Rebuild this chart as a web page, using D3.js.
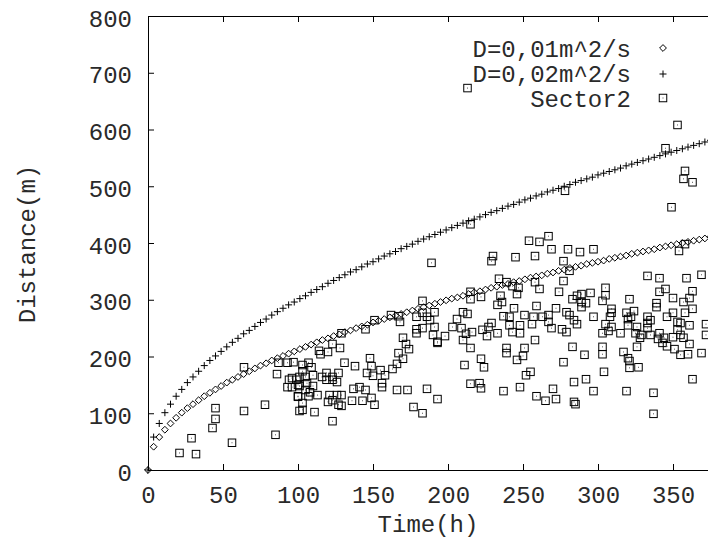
<!DOCTYPE html>
<html>
<head>
<meta charset="utf-8">
<script src="https://cdn.jsdelivr.net/npm/d3@7"></script>
<style>
  body { margin: 0; background: #fff; }
  svg { display: block; }
</style>
</head>
<body>
<div id="chart"></div>
<script>
// sample times of the two model curves (h)
var curveTimes = [0,3.75,7.5,11.25,15,18.75,22.5,26.25,30,33.75,37.5,41.25,45,48.75,52.5,56.25,60,63.75,67.5,71.25,
  75,78.75,82.5,86.25,90,93.75,97.5,101.25,105,108.75,112.5,116.25,120,123.75,127.5,131.25,135,138.75,142.5,146.25,
  150,153.75,157.5,161.25,165,168.75,172.5,176.25,180,183.75,187.5,191.25,195,198.75,202.5,206.25,210,213.75,217.5,221.25,
  225,228.75,232.5,236.25,240,243.75,247.5,251.25,255,258.75,262.5,266.25,270,273.75,277.5,281.25,285,288.75,292.5,296.25,
  300,303.75,307.5,311.25,315,318.75,322.5,326.25,330,333.75,337.5,341.25,345,348.75,352.5,356.25,360,363.75,367.5,371.25,375];

// D=0,01m^2/s
var d1Values = [0,41,58,71,82,92,101,109,116,123,130,136,142,148,154,159,164,169,174,179,
  184,188,193,197,201,205,209,213,217,221,225,229,232,236,239,243,246,250,253,256,
  260,263,266,269,272,275,278,281,284,287,290,293,296,299,302,304,307,310,313,315,
  318,321,323,326,328,331,333,336,339,341,343,346,348,351,353,356,358,360,363,365,
  367,369,372,374,376,378,381,383,385,387,389,392,394,396,398,400,402,404,406,408,411];

// D=0,02m^2/s
var d2Values = [0,58,82,101,116,130,142,154,164,174,184,193,201,209,217,225,232,240,246,253,
  260,266,273,279,285,291,296,302,307,313,318,323,329,334,339,344,349,353,358,363,
  367,372,377,381,385,390,394,398,403,407,411,415,419,423,427,431,435,439,442,446,
  450,454,457,461,465,468,472,476,479,483,486,490,493,496,500,503,507,510,513,516,
  520,523,526,529,532,536,539,542,545,548,551,554,557,560,563,566,569,572,575,578,581];

// Sector2 measurements [time (h), distance (m)]
var sector2 = [
  [21,30],[32,28],[29,56],[43,74],[45,90],[45,109],[56,48],[64,104],[78,115],[85,62],[64,181],[86,169],
  [87,189],[93,189],[97,190],[94,159],[93,146],[99,159],[100,150],[100,129],[101,104],
  [103,185],[107,189],[109,181],[103,174],[101,164],[105,164],[110,167],[96,162],[96,146],[101,148],[106,153],
  [110,148],[105,141],[108,137],[100,130],[107,130],[113,132],[116,164],[119,171],[123,164],[127,171],[123,159],
  [119,159],[126,155],[121,132],[126,132],[129,132],[120,120],[123,123],[127,115],[129,113],[103,118],[103,106],
  [111,102],[123,86],[114,210],[115,204],[120,208],[123,222],[128,215],[129,241],[131,189],[138,183],[148,197],
  [149,183],[146,171],[150,166],[155,176],[158,167],[156,153],[156,146],[137,143],[141,146],[145,141],[143,122],
  [136,122],[149,127],[151,115],[145,248],[151,264],[162,273],[167,271],[168,261],[170,233],[172,222],[174,213],
  [167,206],[170,196],[166,187],[163,178],[166,141],[173,141],[186,143],[193,125],[177,111],[183,100],[183,298],
  [179,270],[183,277],[186,270],[188,264],[191,278],[179,248],[179,241],[183,250],[191,252],[190,238],[193,226],
  [189,365],[213,673],
  [215,433],[230,377],[229,368],[245,375],[254,404],[261,402],[267,412],[269,389],[258,377],[277,368],[280,389],
  [277,333],[274,314],[258,331],[261,319],[247,321],[246,310],[243,324],[239,331],[234,337],[215,314],[222,305],
  [215,301],[235,307],[236,296],[233,291],[244,285],[259,289],[272,285],[279,278],[251,273],[237,271],[241,270],
  [257,270],[263,270],[267,273],[267,261],[269,250],[276,248],[279,243],[256,257],[248,255],[248,241],[241,255],
  [243,243],[233,241],[229,259],[227,252],[223,247],[226,236],[216,243],[210,278],[213,275],[206,266],[203,252],
  [209,250],[212,240],[210,229],[198,236],[193,224],[215,215],[239,215],[239,206],[251,215],[250,201],[246,194],
  [258,229],[222,196],[224,181],[211,185],[277,190],[255,173],[252,167],[215,152],[221,153],[222,144],[237,139],
  [248,146],[259,130],[265,122],[272,125],[270,143],
  [353,608],[345,567],[358,527],[357,513],[363,507],[349,463],[278,492],[288,384],[297,389],[281,351],[354,386],
  [358,398],[333,342],[341,338],[359,338],[369,344],
  [305,321],[305,308],[295,312],[289,310],[283,301],[286,307],[289,296],[292,294],[289,287],[303,298],[321,301],
  [345,319],[341,314],[339,294],[339,287],[350,303],[357,296],[361,303],[363,315],[363,284],[309,284],[309,277],
  [308,270],[319,277],[324,280],[322,270],[320,266],[281,273],[284,264],[286,257],[297,270],[305,257],[309,252],
  [307,245],[303,241],[315,241],[320,255],[326,252],[325,241],[329,238],[328,233],[326,217],[333,270],[335,264],
  [333,259],[333,250],[335,238],[341,241],[340,231],[344,233],[343,224],[346,218],[346,270],[350,277],[353,261],
  [355,259],[358,277],[361,255],[353,247],[355,238],[357,233],[350,234],[351,213],[355,203],[360,204],[361,222],
  [372,257],[372,238],[369,206],[283,217],[291,203],[303,217],[303,204],[317,208],[320,197],[321,192],[321,180],
  [327,181],[304,173],[292,160],[284,155],[297,139],[319,139],[337,136],[363,160],[284,120],[285,116],[337,99]
];

var xTicks = [0, 50, 100, 150, 200, 250, 300, 350];
var yTicks = [0, 100, 200, 300, 400, 500, 600, 700, 800];
var legendLabels = ["D=0,01m^2/s", "D=0,02m^2/s", "Sector2"];

var width = 708, height = 541;
var font = "'Liberation Mono', 'Courier New', monospace";
var textColor = "#2a2a2a";

var svg = d3.select("#chart").append("svg")
  .attr("width", width)
  .attr("height", height);

// plot frame: left edge 148, top 16, bottom 470; right edge falls outside the picture
var x = d3.scaleLinear().domain([0, 400]).range([148, 748]);
var y = d3.scaleLinear().domain([0, 800]).range([470, 16]);

function style_axis(g)
{
  g.selectAll("path, line").attr("stroke", "#000").attr("stroke-width", 1);
  g.selectAll("text")
    .attr("font-family", font)
    .attr("font-size", 24)
    .attr("fill", textColor);
}

svg.append("g")
  .attr("transform", "translate(0," + y(0) + ")")
  .call(d3.axisBottom(x).tickValues(xTicks).tickSizeInner(-6).tickSizeOuter(0).tickPadding(16))
  .call(style_axis);

svg.append("g")
  .attr("transform", "translate(0," + y(800) + ")")
  .call(d3.axisTop(x).tickValues(xTicks).tickSizeInner(-6).tickSizeOuter(0).tickFormat(""))
  .call(style_axis);

svg.append("g")
  .attr("transform", "translate(" + x(0) + ",0)")
  .call(d3.axisLeft(y).tickValues(yTicks).tickSizeInner(-6).tickSizeOuter(0).tickPadding(16))
  .call(style_axis)
  .call(g => g.selectAll(".tick text").attr("dy", "0.42em"));

// axis titles
svg.append("text")
  .attr("x", 428)
  .attr("y", 532)
  .attr("text-anchor", "middle")
  .attr("font-family", font)
  .attr("font-size", 24)
  .attr("fill", textColor)
  .text("Time(h)");

svg.append("text")
  .attr("transform", "translate(35,244) rotate(-90)")
  .attr("text-anchor", "middle")
  .attr("font-family", font)
  .attr("font-size", 24)
  .attr("fill", textColor)
  .text("Distance(m)");

// marker shapes (gnuplot style)
function diamond(r) { return "M0," + (-r) + "L" + r + ",0L0," + r + "L" + (-r) + ",0Z"; }
function plus(r) { return "M" + (-r) + ",0H" + r + "M0," + (-r) + "V" + r; }

function add_square(g, cx, cy)
{
  g.append("rect")
    .attr("x", cx - 3.75).attr("y", cy - 3.75)
    .attr("width", 7.5).attr("height", 7.5)
    .attr("fill", "none")
    .attr("stroke", "#000")
    .attr("stroke-width", 1);
  g.append("rect")
    .attr("x", cx - 0.5).attr("y", cy - 0.5)
    .attr("width", 1).attr("height", 1)
    .attr("fill", "#555");
}

var plot = svg.append("g");

// D=0,01 curve
plot.append("g").selectAll("path")
  .data(curveTimes)
  .join("path")
    .attr("transform", (t, i) => "translate(" + x(t) + "," + y(d1Values[i]) + ")")
    .attr("d", diamond(3.4))
    .attr("fill", "none")
    .attr("stroke", "#000")
    .attr("stroke-width", 1);

// D=0,02 curve
plot.append("g").selectAll("path")
  .data(curveTimes)
  .join("path")
    .attr("transform", (t, i) => "translate(" + x(t) + "," + y(d2Values[i]) + ")")
    .attr("d", plus(3.5))
    .attr("fill", "none")
    .attr("stroke", "#000")
    .attr("stroke-width", 1);

// Sector2 points
var sq = plot.append("g");
sector2.forEach(function(p) { add_square(sq, x(p[0]), y(p[1])); });

// legend
var legend = svg.append("g");
var legendY = [57, 82, 107];
legend.selectAll("text")
  .data(legendLabels)
  .join("text")
    .attr("x", 631)
    .attr("y", (d, i) => legendY[i])
    .attr("text-anchor", "end")
    .attr("font-family", font)
    .attr("font-size", 24)
    .attr("fill", textColor)
    .text(d => d);

legend.append("path")
  .attr("transform", "translate(663," + (legendY[0] - 9) + ")")
  .attr("d", diamond(3.4))
  .attr("fill", "none").attr("stroke", "#000");
legend.append("path")
  .attr("transform", "translate(663," + (legendY[1] - 8) + ")")
  .attr("d", plus(3.5))
  .attr("fill", "none").attr("stroke", "#000");
add_square(legend, 663, legendY[2] - 9);
</script>
</body>
</html>
